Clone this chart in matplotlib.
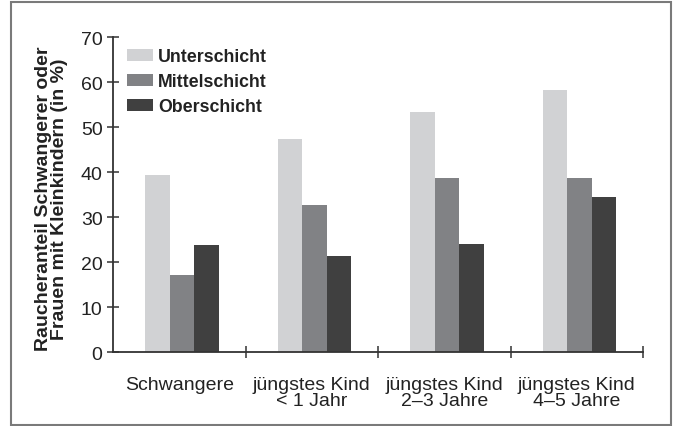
import matplotlib
matplotlib.use("Agg")
import matplotlib.pyplot as plt
import numpy as np
from matplotlib.patches import Rectangle

categories = ["Schwangere", "jüngstes Kind\n< 1 Jahr", "jüngstes Kind\n2–3 Jahre", "jüngstes Kind\n4–5 Jahre"]
series_names = ["Unterschicht", "Mittelschicht", "Oberschicht"]
unterschicht = [39.4, 47.3, 53.3, 58.2]
mittelschicht = [17.2, 32.8, 38.8, 38.8]
oberschicht = [23.9, 21.4, 24.1, 34.6]
y_ticks = [0, 10, 20, 30, 40, 50, 60, 70]
y_label = "Raucheranteil Schwangerer oder\nFrauen mit Kleinkindern (in %)"

colors = ["#d1d2d4", "#818285", "#404040"]
text_color = "#222222"
plt.rcParams["font.family"] = ["Liberation Sans", "DejaVu Sans"]

W, H = 677, 427
fig = plt.figure(figsize=(W / 100, H / 100), dpi=100)
ax = fig.add_axes([113 / W, 1 - 353.3 / H, (643 - 113) / W, (353.3 - 38.3) / H])

x = np.arange(len(categories))
bw = 0.185
for i, (vals, name) in enumerate(zip([unterschicht, mittelschicht, oberschicht], series_names)):
    ax.bar(x + (i - 1) * bw + 0.02, vals, width=bw, color=colors[i], label=name, linewidth=0)

ax.set_xlim(-0.5, len(categories) - 0.5)
ax.set_ylim(0, 70)
ax.set_yticks(y_ticks)
ax.set_yticklabels([str(t) for t in y_ticks], fontsize=14, color=text_color)
ax.set_xticks(x)
ax.set_xticklabels(categories, fontsize=14, color=text_color, linespacing=0.92)
ax.set_xticks(list(x[:-1] + 0.5) + [len(categories) - 0.5], minor=True)
ax.tick_params(axis="x", which="major", length=0, pad=17)
ax.tick_params(axis="x", which="minor", length=8, width=1.1, direction="inout", color="#333333")
ax.tick_params(axis="y", length=9, width=1.1, direction="inout", color="#333333", pad=3)

for s in ["top", "right"]:
    ax.spines[s].set_visible(False)
for s in ["left", "bottom"]:
    ax.spines[s].set_color("#333333")
    ax.spines[s].set_linewidth(1.3)
ax.spines["left"].set_bounds(0, 70)

ax.set_ylabel(y_label, fontsize=14, fontweight="bold", color=text_color, linespacing=0.95)
ax.yaxis.set_label_coords(-0.084, 0.49)

leg = ax.legend(loc="upper left", bbox_to_anchor=(127 / W, 1 - 49 / H), bbox_transform=fig.transFigure,
                frameon=False, borderpad=0, borderaxespad=0, handlelength=1.45, handleheight=0.7,
                handletextpad=0.3, labelspacing=0.45,
                prop={"size": 12.8, "weight": "bold"})
for t in leg.get_texts():
    t.set_color(text_color)

fig.patches.append(Rectangle((11 / W, 1 - 426 / H), (671 - 11) / W, (426 - 3) / H,
                             transform=fig.transFigure, fill=False, edgecolor="#7a7a7a", linewidth=1.5))

fig.savefig("out.png", dpi=100)
